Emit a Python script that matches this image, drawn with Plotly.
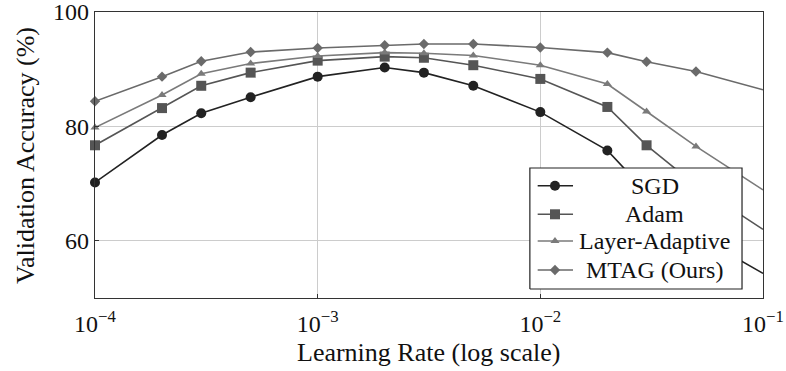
import plotly.graph_objects as go

lr = [1e-4, 2e-4, 3e-4, 5e-4, 1e-3, 2e-3, 3e-3, 5e-3, 1e-2, 2e-2, 3e-2, 5e-2, 1e-1]
sgd = [70.2, 78.5, 82.3, 85.1, 88.7, 90.3, 89.4, 87.1, 82.5, 75.8, 68.5, 61.0, 54.3]
adam = [76.7, 83.2, 87.1, 89.4, 91.5, 92.2, 92.0, 90.7, 88.3, 83.4, 76.7, 69.7, 62.0]
layer_adaptive = [79.8, 85.5, 89.2, 91.0, 92.3, 92.9, 92.8, 92.4, 90.7, 87.4, 82.6, 76.5, 68.9]
mtag = [84.4, 88.7, 91.4, 93.0, 93.7, 94.2, 94.4, 94.4, 93.8, 92.9, 91.3, 89.6, 86.4]

names = ["SGD", "Adam", "Layer-Adaptive", "MTAG (Ours)"]
series = [sgd, adam, layer_adaptive, mtag]
colors = ["#222222", "#555555", "#7a7a7a", "#6a6a6a"]
symbols = ["circle", "square", "triangle-up", "diamond"]
sizes = [10, 10, 8, 8]

x_tickvals = [1e-4, 1e-3, 1e-2, 1e-1]
x_ticktext = ["10<sup>\u22124</sup>", "10<sup>\u22123</sup>", "10<sup>\u22122</sup>", "10<sup>\u22121</sup>"]
y_tickvals = [60, 80, 100]
x_title = "Learning Rate (log scale)"
y_title = "Validation Accuracy (%)"

FONT = "Liberation Serif, DejaVu Serif, serif"
TXT = "#111111"
fig = go.Figure()
for n, s, c, m, sz in zip(names, series, colors, symbols, sizes):
    fig.add_trace(go.Scatter(x=lr, y=s, mode="lines+markers", name=n,
                             line=dict(color=c, width=1.6),
                             marker=dict(symbol=m, size=sz, color=c),
                             showlegend=False, cliponaxis=False))

# manual legend (centered text like pgfplots)
bx0, bx1, by0, by1 = 0.651, 0.9686, 0.0315, 0.4545
fig.add_trace(go.Scatter(x=[bx0, bx1, bx1, bx0, bx0], y=[by0, by0, by1, by1, by0],
                         xaxis="x2", yaxis="y2", mode="lines", fill="toself",
                         fillcolor="white", line=dict(color="#222222", width=1.2),
                         showlegend=False, hoverinfo="skip"))
rows = [0.3927, 0.2927, 0.1993, 0.0979]
lx0, lx1, lxm = 0.6627, 0.7156, 0.6886
for n, c, m, sz, ry in zip(names, colors, symbols, sizes, rows):
    fig.add_trace(go.Scatter(x=[lx0, lx1], y=[ry, ry], xaxis="x2", yaxis="y2",
                             mode="lines", line=dict(color=c, width=1.6),
                             showlegend=False, hoverinfo="skip"))
    fig.add_trace(go.Scatter(x=[lxm], y=[ry], xaxis="x2", yaxis="y2",
                             mode="markers", marker=dict(symbol=m, size=sz, color=c),
                             showlegend=False, hoverinfo="skip"))
    fig.add_annotation(x=0.838, y=ry, xref="paper", yref="paper", text=n,
                       showarrow=False, xanchor="center", yanchor="middle",
                       font=dict(family=FONT, size=24, color=TXT))

# axis titles
fig.add_annotation(x=0.5, y=-0.192, xref="paper", yref="paper", text=x_title,
                   showarrow=False, xanchor="center", yanchor="middle",
                   font=dict(family=FONT, size=26, color=TXT))
fig.add_annotation(x=-0.1048, y=0.5, xref="paper", yref="paper", text=y_title,
                   showarrow=False, xanchor="center", yanchor="middle", textangle=-90,
                   font=dict(family=FONT, size=26, color=TXT))

axis_common = dict(showline=True, linecolor="#333333", linewidth=1.2, mirror=True,
                   showgrid=True, gridcolor="#cccccc", gridwidth=1, automargin=False,
                   ticks="inside", ticklen=4, tickcolor="#333333", zeroline=False,
                   ticklabeloverflow="allow",
                   tickfont=dict(family=FONT, size=24, color=TXT))

fig.update_layout(
    width=786, height=371,
    margin=dict(l=95, r=23, t=12, b=73),
    paper_bgcolor="white", plot_bgcolor="white",
    font=dict(family=FONT, size=24, color=TXT),
    xaxis=dict(type="log", range=[-4, -1], tickvals=x_tickvals, ticktext=x_ticktext,
               ticklabelstandoff=4, **axis_common),
    yaxis=dict(range=[50, 100], tickvals=y_tickvals, **axis_common),
    xaxis2=dict(overlaying="x", range=[0, 1], visible=False, fixedrange=True),
    yaxis2=dict(overlaying="y", range=[0, 1], visible=False, fixedrange=True),
)

fig.write_html("out.html", config={"displayModeBar": False},
               post_script="document.body.style.margin='0';document.body.style.overflow='hidden';")
